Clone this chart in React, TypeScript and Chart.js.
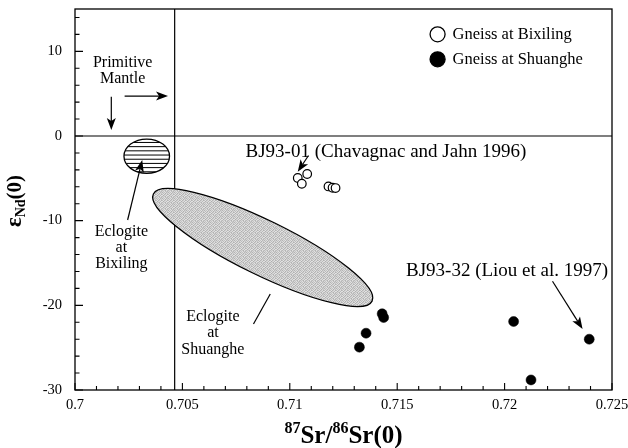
import React, { useEffect, useRef } from "react";
import { Chart, registerables } from "chart.js";

Chart.register(...registerables);

const SERIF = '"Liberation Serif", "Times New Roman", serif';

// ---- data ----
const bixilingLabel = "Gneiss at Bixiling";
const bixilingX = [0.71037, 0.71081, 0.71056, 0.7118, 0.71199, 0.71213];
const bixilingY = [-4.96, -4.49, -5.64, -5.96, -6.11, -6.15];

const shuangheLabel = "Gneiss at Shuanghe";
const shuangheX = [0.7143, 0.71437, 0.71355, 0.71324, 0.72042, 0.72394, 0.72123];
const shuangheY = [-21.0, -21.44, -23.29, -24.94, -21.91, -24.0, -28.81];

const xRange = [0.7, 0.725];
const yRange = [-30, 15];
const xTicks = [0.7, 0.705, 0.71, 0.715, 0.72, 0.725];
const xTickLabels = ["0.7", "0.705", "0.71", "0.715", "0.72", "0.725"];
const yTicks = [-30, -20, -10, 0, 10];
const yTickLabels = ["-30", "-20", "-10", "0", "10"];
const xMinorStep = 0.001;
const yMinorStep = 2;

// reference lines (bulk earth Sr, CHUR Nd)
const refSr = 0.70464;
const refNd = 0;

// fields: [cx, cy, rx, ry]
const bixilingEclogite = [0.70334, -2.39, 0.00106, 2.03];
// [cx, cy, major-axis end x, major-axis end y, minor/major ratio]
const shuangheEclogite = [0.70874, -13.17, 0.71383, -19.5, 0.224];

// text notes: [text, x, y, size, align]
const notes: [string, number, number, number, CanvasTextAlign][] = [
  ["Primitive", 0.70222, 8.7, 16, "center"],
  ["Mantle", 0.70222, 6.73, 16, "center"],
  ["BJ93-01 (Chavagnac and Jahn 1996)", 0.70794, -1.95, 19, "left"],
  ["BJ93-32 (Liou et al. 1997)", 0.71541, -15.91, 19, "left"],
  ["Eclogite", 0.70216, -11.26, 16, "center"],
  ["at", 0.70216, -13.23, 16, "center"],
  ["Bixiling", 0.70216, -15.12, 16, "center"],
  ["Eclogite", 0.70642, -21.34, 16, "center"],
  ["at", 0.70642, -23.3, 16, "center"],
  ["Shuanghe", 0.70642, -25.27, 16, "center"],
];

// arrows: [x1, y1, x2, y2, head]
const arrows: [number, number, number, number, boolean][] = [
  [0.70169, 4.64, 0.70169, 0.7, true],
  [0.70231, 4.72, 0.70433, 4.72, true],
  [0.71087, -2.3, 0.71037, -4.22, true],
  [0.72223, -17.16, 0.72363, -22.79, true],
  [0.70245, -9.92, 0.70313, -2.83, true],
  [0.70831, -22.2, 0.70909, -18.66, false],
];

// legend anchor (data units): [x, y of first row, y of second row]
const legendPos = [0.71688, 12.01, 9.06];

const stippleGrays = [
  [0xb4, 0xd8, 0xc2, 0xe2, 0xb8, 0xd0],
  [0xdc, 0xbc, 0xe0, 0xb0, 0xd4, 0xc6],
  [0xc0, 0xe4, 0xb6, 0xcc, 0xde, 0xb2],
  [0xe0, 0xae, 0xd2, 0xda, 0xba, 0xe2],
  [0xba, 0xd6, 0xc8, 0xb2, 0xe4, 0xc4],
  [0xd8, 0xc4, 0xe2, 0xbe, 0xcc, 0xb6],
];
let stipple: CanvasPattern | null = null;
function getStipple(ctx: CanvasRenderingContext2D) {
  if (stipple) return stipple;
  const n = stippleGrays.length;
  const c = document.createElement("canvas");
  c.width = n;
  c.height = n;
  const g = c.getContext("2d")!;
  for (let r = 0; r < n; r++)
    for (let k = 0; k < n; k++) {
      const v = stippleGrays[r][k];
      g.fillStyle = `rgb(${v},${v},${v})`;
      g.fillRect(k, r, 1, 1);
    }
  stipple = ctx.createPattern(c, "repeat");
  return stipple!;
}

function arrowTo(ctx: CanvasRenderingContext2D, x1: number, y1: number, x2: number, y2: number, head: boolean) {
  const ang = Math.atan2(y2 - y1, x2 - x1);
  const L = 12, W = 4.5, N = 3;
  ctx.beginPath();
  ctx.moveTo(x1, y1);
  const ex = head ? x2 - Math.cos(ang) * (L - N) : x2;
  const ey = head ? y2 - Math.sin(ang) * (L - N) : y2;
  ctx.lineTo(ex, ey);
  ctx.stroke();
  if (!head) return;
  const c = Math.cos(ang), s = Math.sin(ang);
  ctx.beginPath();
  ctx.moveTo(x2, y2);
  ctx.lineTo(x2 - c * L - s * W, y2 - s * L + c * W);
  ctx.lineTo(x2 - c * (L - N), y2 - s * (L - N));
  ctx.lineTo(x2 - c * L + s * W, y2 - s * L - c * W);
  ctx.closePath();
  ctx.fill();
}

type Run = { t: string; s: number; dy: number };
function drawRuns(ctx: CanvasRenderingContext2D, runs: Run[], cx: number, base: number) {
  let total = 0;
  for (const r of runs) {
    ctx.font = `bold ${r.s}px ${SERIF}`;
    total += ctx.measureText(r.t).width;
  }
  let x = cx - total / 2;
  ctx.textAlign = "left";
  ctx.textBaseline = "alphabetic";
  for (const r of runs) {
    ctx.font = `bold ${r.s}px ${SERIF}`;
    ctx.fillText(r.t, x, base + r.dy);
    x += ctx.measureText(r.t).width;
  }
}

const decor = {
  id: "decor",
  beforeDatasetsDraw(chart: any) {
    const { ctx, chartArea: a, scales } = chart;
    const px = (v: number) => scales.x.getPixelForValue(v);
    const py = (v: number) => scales.y.getPixelForValue(v);
    ctx.save();
    ctx.strokeStyle = "#000";
    ctx.fillStyle = "#000";
    ctx.lineWidth = 1.2;

    // reference lines
    ctx.beginPath();
    ctx.moveTo(px(refSr), a.top);
    ctx.lineTo(px(refSr), a.bottom);
    ctx.moveTo(a.left, py(refNd));
    ctx.lineTo(a.right, py(refNd));
    ctx.stroke();

    // Shuanghe eclogite field
    {
      const [cx, cy, ex, ey, ratio] = shuangheEclogite;
      const X0 = px(cx), Y0 = py(cy), X1 = px(ex), Y1 = py(ey);
      const A = Math.hypot(X1 - X0, Y1 - Y0);
      const ang = Math.atan2(Y1 - Y0, X1 - X0);
      ctx.beginPath();
      ctx.ellipse(X0, Y0, A, A * ratio, ang, 0, Math.PI * 2);
      ctx.fillStyle = getStipple(ctx);
      ctx.fill();
      ctx.lineWidth = 1.3;
      ctx.stroke();
    }
    // Bixiling eclogite field (hatched)
    {
      const [cx, cy, rx, ry] = bixilingEclogite;
      const X0 = px(cx), Y0 = py(cy);
      const RX = px(cx + rx) - X0, RY = py(cy - ry) - Y0;
      ctx.save();
      ctx.beginPath();
      ctx.ellipse(X0, Y0, RX, RY, 0, 0, Math.PI * 2);
      ctx.fillStyle = "#fff";
      ctx.fill();
      ctx.clip();
      ctx.lineWidth = 1;
      ctx.beginPath();
      const sp = RY / 4.1;
      for (let k = -5; k <= 5; k++) {
        const yy = Y0 - 1.2 + k * sp;
        ctx.moveTo(X0 - RX - 2, yy);
        ctx.lineTo(X0 + RX + 2, yy);
      }
      ctx.stroke();
      ctx.restore();
      ctx.beginPath();
      ctx.ellipse(X0, Y0, RX, RY, 0, 0, Math.PI * 2);
      ctx.lineWidth = 1.3;
      ctx.stroke();
    }

    // frame
    ctx.lineWidth = 1.3;
    ctx.strokeRect(a.left, a.top, a.right - a.left, a.bottom - a.top);

    // inner ticks
    ctx.lineWidth = 1.1;
    ctx.beginPath();
    for (let i = 0; ; i++) {
      const v = xRange[0] + i * xMinorStep;
      if (v > xRange[1] + 1e-9) break;
      const major = i % 5 === 0;
      const X = px(v);
      ctx.moveTo(X, a.bottom);
      ctx.lineTo(X, a.bottom - (major ? 7 : 4));
    }
    for (let i = 0; ; i++) {
      const v = yRange[0] + i * yMinorStep;
      if (v > yRange[1] + 1e-9) break;
      const major = Math.abs(v % 10) < 1e-9;
      const Y = py(v);
      ctx.moveTo(a.left, Y);
      ctx.lineTo(a.left + (major ? 8 : 4.5), Y);
    }
    ctx.stroke();
    ctx.restore();
  },
  afterDatasetsDraw(chart: any) {
    const { ctx, chartArea: a, scales } = chart;
    const px = (v: number) => scales.x.getPixelForValue(v);
    const py = (v: number) => scales.y.getPixelForValue(v);
    ctx.save();
    ctx.fillStyle = "#000";
    ctx.strokeStyle = "#000";
    ctx.lineWidth = 1.2;

    for (const [t, x, y, s, al] of notes) {
      ctx.font = `${s}px ${SERIF}`;
      ctx.textAlign = al;
      ctx.textBaseline = "middle";
      ctx.fillText(t, px(x), py(y));
    }
    for (const [x1, y1, x2, y2, h] of arrows) {
      arrowTo(ctx, px(x1), py(y1), px(x2), py(y2), h);
    }

    // legend
    const ds = chart.data.datasets;
    const rows = [legendPos[1], legendPos[2]];
    ds.forEach((d: any, i: number) => {
      const X = px(legendPos[0]);
      const Y = py(rows[i]);
      ctx.beginPath();
      ctx.arc(X, Y, 7.5, 0, Math.PI * 2);
      ctx.fillStyle = d.pointBackgroundColor;
      ctx.fill();
      ctx.lineWidth = 1.3;
      ctx.strokeStyle = "#000";
      ctx.stroke();
      ctx.fillStyle = "#000";
      ctx.font = `16.5px ${SERIF}`;
      ctx.textAlign = "left";
      ctx.textBaseline = "middle";
      ctx.fillText(d.label, X + 15, Y);
    });

    // axis titles
    ctx.fillStyle = "#000";
    drawRuns(
      ctx,
      [
        { t: "87", s: 16, dy: -10 },
        { t: "Sr/", s: 25, dy: 0 },
        { t: "86", s: 16, dy: -10 },
        { t: "Sr(0)", s: 25, dy: 0 },
      ],
      (a.left + a.right) / 2,
      443
    );
    ctx.save();
    ctx.translate(21, 201);
    ctx.rotate(-Math.PI / 2);
    drawRuns(
      ctx,
      [
        { t: "\u03b5", s: 23, dy: 0 },
        { t: "Nd", s: 14, dy: 4 },
        { t: "(0)", s: 21, dy: 0 },
      ],
      0,
      0
    );
    ctx.restore();
    ctx.restore();
  },
};

function labelFor(vals: number[], labels: string[], v: number) {
  const i = vals.findIndex((t) => Math.abs(t - v) < 1e-9);
  return i >= 0 ? labels[i] : "";
}

function zeroPad(s: any) {
  s.paddingLeft = 0;
  s.paddingRight = 0;
  s.paddingTop = 0;
  s.paddingBottom = 0;
}

export default function App() {
  const ref = useRef<HTMLCanvasElement>(null);
  useEffect(() => {
    const chart = new Chart(ref.current!, {
      type: "scatter",
      data: {
        datasets: [
          {
            label: bixilingLabel,
            data: bixilingX.map((x, i) => ({ x, y: bixilingY[i] })),
            pointRadius: 4.3,
            pointBackgroundColor: "#fff",
            pointBorderColor: "#000",
            pointBorderWidth: 1.2,
          } as any,
          {
            label: shuangheLabel,
            data: shuangheX.map((x, i) => ({ x, y: shuangheY[i] })),
            pointRadius: 5,
            pointBackgroundColor: "#000",
            pointBorderColor: "#000",
            pointBorderWidth: 0.5,
          } as any,
        ],
      },
      options: {
        animation: false,
        responsive: false,
        events: [],
        layout: { padding: { top: 9, right: 16, left: 0, bottom: 0 } },
        plugins: { legend: { display: false }, tooltip: { enabled: false } },
        scales: {
          x: {
            type: "linear",
            min: xRange[0],
            max: xRange[1],
            grid: { display: false, drawTicks: false },
            border: { display: false },
            afterBuildTicks: (s: any) => {
              s.ticks = xTicks.map((v) => ({ value: v }));
            },
            afterFit: (s: any) => {
              s.height = 58;
              zeroPad(s);
            },
            ticks: {
              autoSkip: false,
              maxRotation: 0,
              padding: 6,
              color: "#000",
              font: { family: SERIF, size: 14.5 },
              callback: (v: any) => labelFor(xTicks, xTickLabels, Number(v)),
            },
          },
          y: {
            type: "linear",
            min: yRange[0],
            max: yRange[1],
            grid: { display: false, drawTicks: false },
            border: { display: false },
            afterBuildTicks: (s: any) => {
              s.ticks = yTicks.map((v) => ({ value: v }));
            },
            afterFit: (s: any) => {
              s.width = 75;
              zeroPad(s);
            },
            ticks: {
              autoSkip: false,
              padding: 13,
              color: "#000",
              font: { family: SERIF, size: 14.5 },
              callback: (v: any) => labelFor(yTicks, yTickLabels, Number(v)),
            },
          },
        },
      } as any,
      plugins: [decor],
    });
    return () => chart.destroy();
  }, []);
  return (
    <div style={{ position: "fixed", left: 0, top: 0, width: 628, height: 448, background: "#fff" }}>
      <canvas ref={ref} width={628} height={448} style={{ display: "block" }} />
    </div>
  );
}
